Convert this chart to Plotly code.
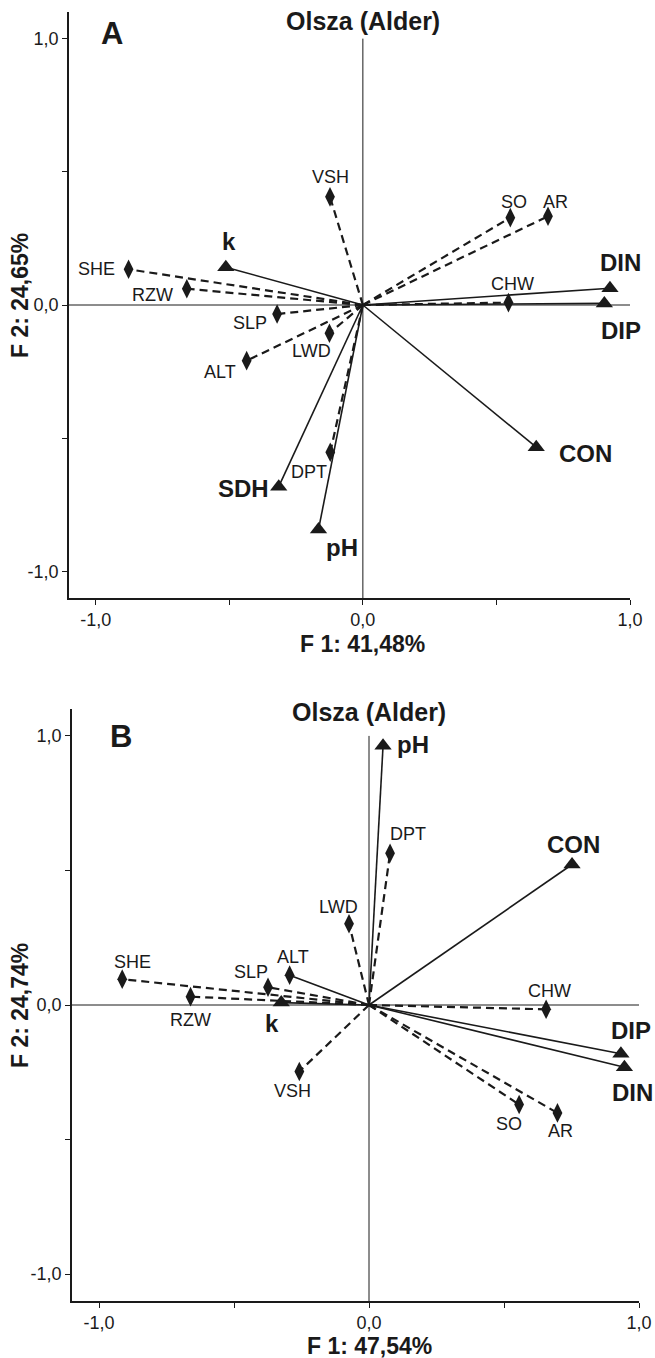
import plotly.graph_objects as go

# ---------------- Panel A: loadings on F1 / F2 ----------------
A_var_names = ["SHE", "RZW", "SLP", "LWD", "ALT", "DPT", "VSH", "SO", "AR", "CHW"]
A_var_f1 = [-0.877, -0.659, -0.321, -0.125, -0.435, -0.122, -0.123, 0.552, 0.693, 0.545]
A_var_f2 = [0.134, 0.061, -0.034, -0.106, -0.209, -0.553, 0.406, 0.328, 0.333, 0.009]

A_ind_names = ["k", "DIN", "DIP", "CON", "SDH", "pH"]
A_ind_f1 = [-0.513, 0.925, 0.904, 0.649, -0.315, -0.166]
A_ind_f2 = [0.142, 0.063, 0.006, -0.534, -0.682, -0.843]

A_x_title = "F 1: 41,48%"
A_y_title = "F 2: 24,65%"

# ---------------- Panel B: loadings on F1 / F2 ----------------
B_var_names = ["SHE", "RZW", "SLP", "ALT", "LWD", "DPT", "CHW", "VSH", "SO", "AR"]
B_var_f1 = [-0.914, -0.661, -0.374, -0.294, -0.074, 0.078, 0.656, -0.258, 0.556, 0.698]
B_var_f2 = [0.096, 0.031, 0.066, 0.111, 0.302, 0.564, -0.016, -0.247, -0.370, -0.401]

B_ind_names = ["pH", "CON", "k", "DIP", "DIN"]
B_ind_f1 = [0.052, 0.752, -0.325, 0.933, 0.946]
B_ind_f2 = [0.963, 0.522, 0.009, -0.181, -0.231]

B_x_title = "F 1: 47,54%"
B_y_title = "F 2: 24,74%"

panel_title = "Olsza (Alder)"
tick_vals = [-1.0, -0.5, 0.0, 0.5, 1.0]
tick_text = ["-1,0", "", "0,0", "", "1,0"]

# ---------------- styling ----------------
W, H = 655, 1358
FONT = "Liberation Sans, Arial, Helvetica, sans-serif"
INK = "#1a1a1a"

# label offsets in pixels (dx right, dy down) relative to each marker
A_label_offsets = {
    "SHE": (-32, 0), "RZW": (-34, 6), "SLP": (-27, 9), "LWD": (-18, 18),
    "ALT": (-27, 11), "DPT": (-21, 20), "VSH": (0, -20), "SO": (4, -16),
    "AR": (8, -14), "CHW": (4, -19),
    "k": (3, -26), "DIN": (11, -26), "DIP": (17, 27), "CON": (49, 6),
    "SDH": (-35, 2), "pH": (23, 18),
}
B_label_offsets = {
    "SHE": (10, -17), "RZW": (0, 23), "SLP": (-17, -15), "ALT": (3, -18),
    "LWD": (-11, -17), "DPT": (18, -19), "CHW": (3, -18), "VSH": (-7, 20),
    "SO": (-10, 19), "AR": (3, 18),
    "pH": (30, -1), "CON": (1, -20), "k": (-9, 21), "DIP": (10, -23),
    "DIN": (8, 25),
}
B_solid_vars = {"ALT"}

# pixel boxes of the two plotting areas: (left, right, top, bottom)
boxes = {
    "A": (69, 630, 12, 598),
    "B": (72, 639, 709, 1301),
}
# panel decorations: title y-shift, letter position (data units), x/y title centres (px)
deco = {
    "A": dict(title_shift=18, letter=(-0.94, 1.02), xtitle_y=644, ytitle_y=296),
    "B": dict(title_shift=24, letter=(-0.917, 0.996), xtitle_y=1346, ytitle_y=1006),
}
X_RANGE = [-1.1, 1.0]
Y_RANGE = [-1.1, 1.1]

fig = go.Figure()


def add_panel(axis_suffix, var_names, var_f1, var_f2, ind_names, ind_f1, ind_f2,
              offsets, solid_vars):
    xa = "x" + axis_suffix
    ya = "y" + axis_suffix
    # vectors of the environmental variables (diamonds)
    for n, fx, fy in zip(var_names, var_f1, var_f2):
        solid = n in solid_vars
        fig.add_trace(go.Scatter(
            x=[0, fx], y=[0, fy], mode="lines", xaxis=xa, yaxis=ya,
            line=dict(color=INK, width=1.6 if solid else 2.2,
                      dash="solid" if solid else "8px,5px"),
            hoverinfo="skip", showlegend=False))
    # vectors of the indicators (triangles)
    for n, fx, fy in zip(ind_names, ind_f1, ind_f2):
        fig.add_trace(go.Scatter(
            x=[0, fx], y=[0, fy], mode="lines", xaxis=xa, yaxis=ya,
            line=dict(color=INK, width=1.6),
            hoverinfo="skip", showlegend=False))
    fig.add_trace(go.Scatter(
        x=var_f1, y=var_f2, mode="markers", xaxis=xa, yaxis=ya,
        marker=dict(symbol="diamond-tall", size=14, color=INK),
        text=var_names, hoverinfo="text", showlegend=False))
    fig.add_trace(go.Scatter(
        x=ind_f1, y=ind_f2, mode="markers", xaxis=xa, yaxis=ya,
        marker=dict(symbol="triangle-up", size=15, color=INK),
        text=ind_names, hoverinfo="text", showlegend=False))
    # point labels
    for n, fx, fy in zip(var_names, var_f1, var_f2):
        ox, oy = offsets[n]
        fig.add_annotation(x=fx, y=fy, xref=xa, yref=ya, text=n, showarrow=False,
                           xshift=ox, yshift=-oy,
                           font=dict(family=FONT, size=18, color=INK))
    for n, fx, fy in zip(ind_names, ind_f1, ind_f2):
        ox, oy = offsets[n]
        fig.add_annotation(x=fx, y=fy, xref=xa, yref=ya, text="<b>%s</b>" % n,
                           showarrow=False, xshift=ox, yshift=-oy,
                           font=dict(family=FONT, size=24, color=INK))
    # cross-hair lines through the origin
    fig.add_shape(type="line", xref=xa, yref=ya, x0=X_RANGE[0], x1=1.0, y0=0, y1=0,
                  line=dict(color=INK, width=1), layer="below")
    fig.add_shape(type="line", xref=xa, yref=ya, x0=0, x1=0, y0=Y_RANGE[0], y1=1.0,
                  line=dict(color=INK, width=1), layer="below")


add_panel("", A_var_names, A_var_f1, A_var_f2, A_ind_names, A_ind_f1, A_ind_f2,
          A_label_offsets, set())
add_panel("2", B_var_names, B_var_f1, B_var_f2, B_ind_names, B_ind_f1, B_ind_f2,
          B_label_offsets, B_solid_vars)


def axis_common():
    return dict(
        showgrid=False, zeroline=False, showline=True, automargin=False,
        linecolor=INK, linewidth=1.5, ticks="outside", ticklen=5, tickwidth=1,
        tickcolor=INK, tickvals=tick_vals, ticktext=tick_text,
        tickfont=dict(family=FONT, size=18, color=INK), fixedrange=True,
    )


def dom_x(b):
    return [b[0] / W, b[1] / W]


def dom_y(b):
    return [1 - b[3] / H, 1 - b[2] / H]


layout_axes = {}
for suffix, key in (("", "A"), ("2", "B")):
    b = boxes[key]
    xa = axis_common()
    xa.update(range=X_RANGE, domain=dom_x(b), anchor="y" + suffix)
    ya = axis_common()
    ya.update(range=Y_RANGE, domain=dom_y(b), anchor="x" + suffix)
    layout_axes["xaxis" + suffix] = xa
    layout_axes["yaxis" + suffix] = ya

fig.update_layout(
    width=W, height=H, autosize=False, margin=dict(l=0, r=0, t=0, b=0, pad=0),
    paper_bgcolor="white", plot_bgcolor="white",
    font=dict(family=FONT, color=INK),
    **layout_axes,
)

# panel titles, panel letters and axis titles
for key, suffix, letter, xt, yt in (("A", "", "A", A_x_title, A_y_title),
                                     ("B", "2", "B", B_x_title, B_y_title)):
    d = deco[key]
    xa, ya = "x" + suffix, "y" + suffix
    fig.add_annotation(x=0.0, y=1.0, xref=xa, yref=ya, yshift=d["title_shift"],
                       text="<b>%s</b>" % panel_title, showarrow=False,
                       font=dict(family=FONT, size=25, color=INK))
    fig.add_annotation(x=d["letter"][0], y=d["letter"][1], xref=xa, yref=ya,
                       text="<b>%s</b>" % letter, showarrow=False,
                       font=dict(family=FONT, size=31, color=INK))
    fig.add_annotation(x=0.0, y=1 - d["xtitle_y"] / H, xref=xa, yref="paper",
                       xanchor="center", yanchor="middle",
                       text="<b>%s</b>" % xt, showarrow=False,
                       font=dict(family=FONT, size=23, color=INK))
    fig.add_annotation(x=20 / W, y=1 - d["ytitle_y"] / H, xref="paper", yref="paper",
                       xanchor="center", yanchor="middle",
                       text="<b>%s</b>" % yt, textangle=-90, showarrow=False,
                       font=dict(family=FONT, size=23, color=INK))

fig.write_html("out.html", config={"responsive": False})
